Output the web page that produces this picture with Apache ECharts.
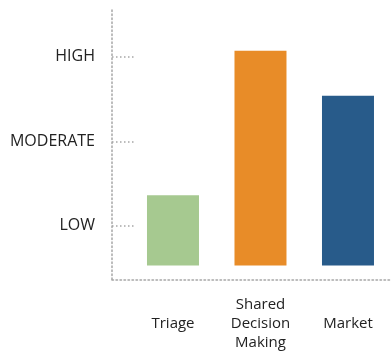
<!DOCTYPE html>
<html>
<head>
<meta charset="utf-8">
<script src="https://cdn.jsdelivr.net/npm/echarts@6/dist/echarts.min.js"></script>
<style>
  html, body { margin: 0; padding: 0; background: #fff; }
  #chart { width: 392px; height: 352px; }
</style>
</head>
<body>
<div id="chart"></div>
<script>
// categories and their level (1 = LOW, 2 = MODERATE, 3 = HIGH)
const categories = ["Triage", "Shared\nDecision\nMaking", "Market"];
const levels = [1.36, 3.07, 2.54];
const barColors = ["#a6c990", "#e88c28", "#285b8a"];
const levelLabels = ["LOW", "MODERATE", "HIGH"];
const levelTicks = [1, 2, 3];
// bars rise from a floor just under LOW, not from the axis line
const floor = 0.53;
const yMin = 0.3647;
const yMax = 3.553;

const axisGrey = "#a6a6a6";
const dotted = { color: axisGrey, type: [1.5, 2.5], width: 1.5 };
const chart = echarts.init(document.getElementById("chart"));

const option = {
  animation: false,
  grid: { left: 112, right: 0, top: 10, bottom: 71 },
  xAxis: {
    type: "value",
    min: 0.303,
    max: 3.503,
    splitLine: { show: false },
    axisLine: { show: true, onZero: false, lineStyle: dotted },
    axisTick: { show: false },
    axisLabel: {
      customValues: [1, 2, 3],
      margin: 44,
      verticalAlign: "middle",
      align: "center",
      fontFamily: "Open Sans",
      fontSize: 15,
      lineHeight: 19,
      color: "#222",
      formatter: (v) => categories[Math.round(v) - 1] || "",
    },
  },
  yAxis: [
    {
      type: "value",
      min: yMin,
      max: yMax,
      splitLine: { show: false },
      axisLine: { show: true, onZero: false, lineStyle: dotted },
      axisTick: {
        show: true,
        inside: true,
        length: 24,
        customValues: levelTicks,
        lineStyle: dotted,
      },
      axisLabel: {
        customValues: levelTicks,
        margin: 17,
        fontFamily: "Open Sans",
        fontSize: 16,
        color: "#222",
        formatter: (v) => levelLabels[Math.round(v) - 1] || "",
      },
    },
    {
      // hidden axis, same scale, zero at the floor
      type: "value",
      show: false,
      min: yMin - floor,
      max: yMax - floor,
      splitLine: { show: false },
    },
  ],
  series: [
    {
      type: "bar",
      yAxisIndex: 1,
      barWidth: 52,
      data: levels.map((v, i) => ({
        value: [i + 1, v - floor],
        itemStyle: { color: barColors[i] },
      })),
    },
  ],
};

chart.setOption(option);
</script>
</body>
</html>
